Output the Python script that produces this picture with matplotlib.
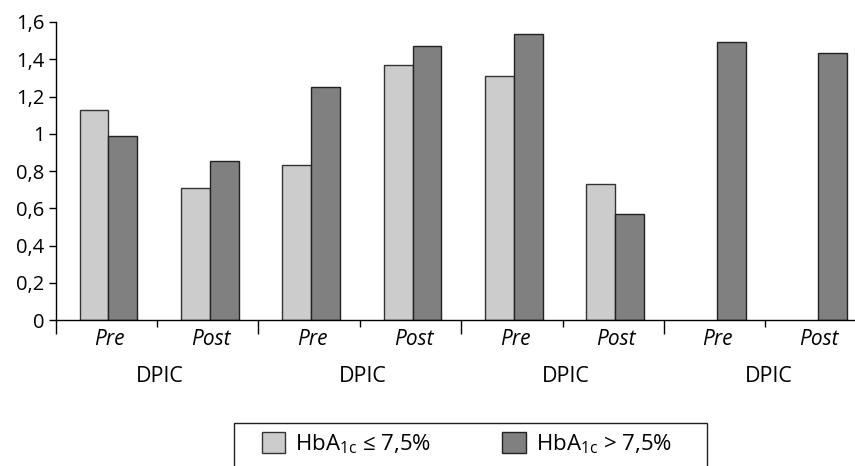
import numpy as np
import matplotlib.pyplot as plt
from matplotlib.patches import Rectangle

plt.rcParams['font.family'] = ['Open Sans', 'DejaVu Sans']

phases = ["Pre", "Post", "Pre", "Post", "Pre", "Post", "Pre", "Post"]
groups = ["DPIC", "DPIC", "DPIC", "DPIC"]
low_hba1c = [1.13, 0.71, 0.83, 1.37, 1.31, 0.73, np.nan, np.nan]
high_hba1c = [0.99, 0.855, 1.25, 1.47, 1.537, 0.567, 1.493, 1.432]
y_ticks = [0, 0.2, 0.4, 0.6, 0.8, 1, 1.2, 1.4, 1.6]
y_labels = ["0", "0,2", "0,4", "0,6", "0,8", "1", "1,2", "1,4", "1,6"]

W, H = 855, 466
fig = plt.figure(figsize=(W / 100, H / 100), dpi=100)
ax = fig.add_axes([55.7 / W, (H - 320) / H, 811 / W, 298 / H])

x = np.arange(len(phases))
w = 0.285
b1 = ax.bar(x - w / 2 + 0.02, low_hba1c, w, color="#cccccc", edgecolor="#333333", linewidth=1.0,
            label="HbA$_\\mathregular{1c}$ ≤ 7,5%")
b2 = ax.bar(x + w / 2 + 0.02, high_hba1c, w, color="#808080", edgecolor="#222222", linewidth=1.0,
            label="HbA$_\\mathregular{1c}$ > 7,5%")

ax.set_xlim(-0.5, len(phases) - 0.5)
ax.set_ylim(0, 1.6)
ax.set_yticks(y_ticks)
ax.set_yticklabels(y_labels, fontsize=14.5)
ax.tick_params(axis="y", direction="out", length=5, width=1, pad=3)

for s in ["top", "right"]:
    ax.spines[s].set_visible(False)
ax.spines["left"].set_linewidth(1)
ax.spines["bottom"].set_linewidth(1)

# boundary ticks: short between Pre/Post, long between groups
ax.set_xticks(np.arange(-0.5, len(phases), 2))
ax.set_xticks(np.arange(0.5, len(phases), 2), minor=True)
ax.set_xticklabels([])
ax.tick_params(axis="x", which="major", direction="out", length=10, width=1)
ax.tick_params(axis="x", which="minor", direction="out", length=5, width=1)

for i, p in enumerate(phases):
    ax.text(i + 0.03, -0.03, p, ha="center", va="top", fontsize=15, style="italic",
            transform=ax.get_xaxis_transform())
for g, name in enumerate(groups):
    ax.text(2 * g + 0.53, -0.155, name, ha="center", va="top", fontsize=15.5,
            transform=ax.get_xaxis_transform())

# legend box, open at the bottom edge of the picture
fig.patches.append(Rectangle((234 / W, -0.05), (707 - 234) / W, 0.05 + (H - 422.5) / H,
                             transform=fig.transFigure, fill=False, edgecolor="#222222",
                             linewidth=1))
fig.legend(handles=[b1, b2], loc="center left", bbox_to_anchor=(262 / W, (H - 444) / H),
           ncol=2, frameon=False, fontsize=16, handlelength=1.05, handleheight=1.05,
           handletextpad=0.45, columnspacing=3.2, borderpad=0, borderaxespad=0)

fig.savefig("out.png", dpi=100)
